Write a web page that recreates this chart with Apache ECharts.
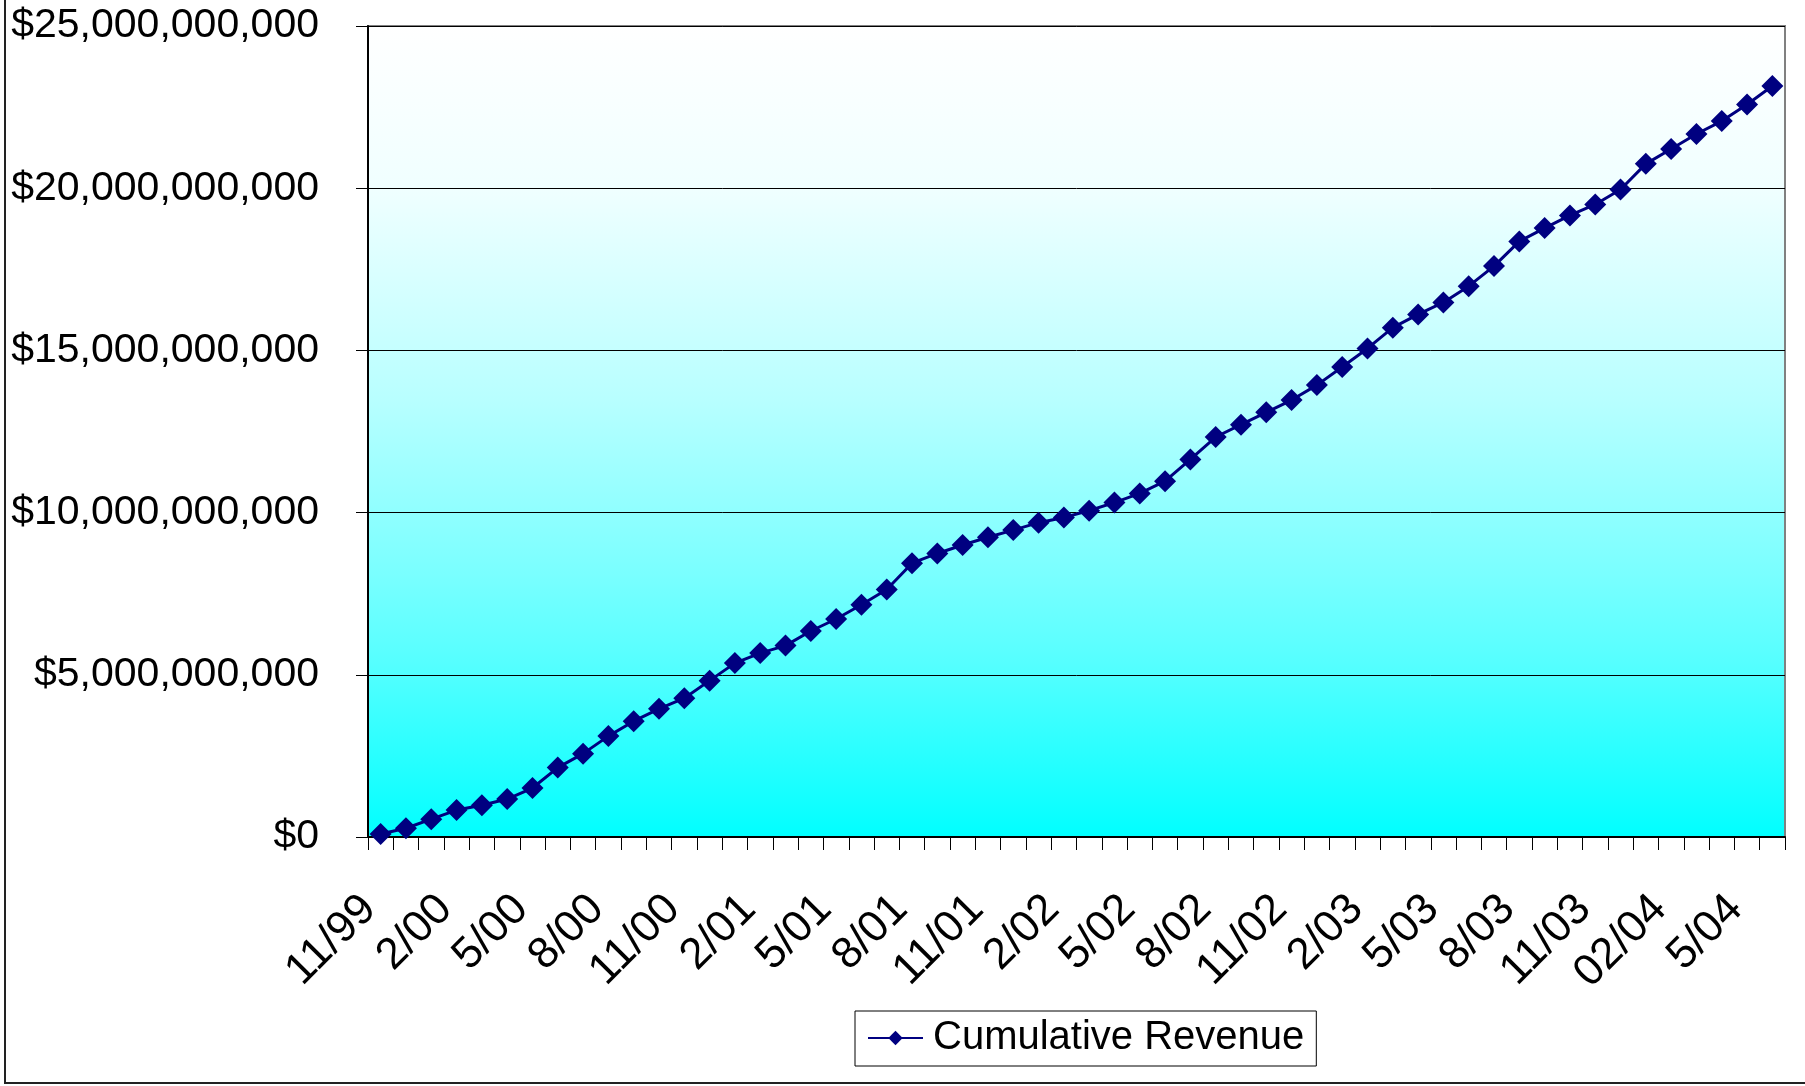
<!DOCTYPE html>
<html>
<head>
<meta charset="utf-8">
<script src="https://cdn.jsdelivr.net/npm/echarts@6/dist/echarts.min.js"></script>
<style>
  html, body { margin: 0; padding: 0; background: #fff; }
  #chart { width: 1805px; height: 1086px; }
</style>
</head>
<body>
<div id="chart"></div>
<script>
  // months, 11/99 .. 6/04
  const months = [
    '11/99', '12/99', '1/00', '2/00', '3/00', '4/00', '5/00', '6/00', '7/00', '8/00',
    '9/00', '10/00', '11/00', '12/00', '1/01', '2/01', '3/01', '4/01', '5/01', '6/01',
    '7/01', '8/01', '9/01', '10/01', '11/01', '12/01', '1/02', '2/02', '3/02', '4/02',
    '5/02', '6/02', '7/02', '8/02', '9/02', '10/02', '11/02', '12/02', '1/03', '2/03',
    '3/03', '4/03', '5/03', '6/03', '7/03', '8/03', '9/03', '10/03', '11/03', '12/03',
    '01/04', '02/04', '03/04', '04/04', '5/04', '6/04'
  ];

  // cumulative revenue, billions of dollars
  const revenueBillions = [
    0.09, 0.27, 0.55, 0.83, 0.98, 1.17, 1.51, 2.14, 2.57, 3.11,
    3.57, 3.95, 4.28, 4.82, 5.36, 5.67, 5.90, 6.35, 6.72, 7.16,
    7.63, 8.44, 8.74, 9.00, 9.24, 9.46, 9.69, 9.85, 10.06, 10.31,
    10.59, 10.97, 11.64, 12.33, 12.71, 13.09, 13.47, 13.93, 14.49, 15.06,
    15.70, 16.11, 16.48, 16.98, 17.60, 18.36, 18.77, 19.16, 19.50, 19.96,
    20.75, 21.21, 21.67, 22.07, 22.58, 23.15
  ];

  const yTicks = [0, 5, 10, 15, 20, 25];

  const font = 'Arial, "Liberation Sans", sans-serif';
  const navy = '#000080';

  const myChart = echarts.init(document.getElementById('chart'));
  const option = {
    animation: false,
    backgroundColor: '#fff',
    graphic: [{
      type: 'polyline',
      shape: { points: [[5, -5], [5, 1083], [1810, 1083]] },
      style: { stroke: '#222', lineWidth: 2, fill: null },
      z: 100
    }],
    grid: {
      left: 368,
      right: 20,
      top: 26,
      bottom: 249,
      show: true,
      borderColor: '#808080',
      borderWidth: 2,
      // excel style two colour fill, white fading to cyan
      backgroundColor: {
        type: 'linear', x: 0, y: 0, x2: 0, y2: 1,
        colorStops: [
          { offset: 0, color: '#ffffff' },
          { offset: 0.2, color: '#f0ffff' },
          { offset: 0.46, color: '#b8ffff' },
          { offset: 0.68, color: '#78ffff' },
          { offset: 0.8, color: '#50ffff' },
          { offset: 1, color: '#00ffff' }
        ]
      }
    },
    legend: {
      data: ['Cumulative Revenue'],
      left: 855,
      top: 1011,
      orient: 'horizontal',
      borderColor: '#000',
      borderWidth: 1,
      padding: [7, 12, 8, 12],
      itemWidth: 55,
      itemHeight: 18,
      textStyle: {
        fontFamily: font,
        fontSize: 40,
        color: '#000',
        padding: [0, 0, 0, 5]
      }
    },
    xAxis: {
      type: 'category',
      data: months,
      boundaryGap: true,
      axisLine: { lineStyle: { color: '#000', width: 2 } },
      axisTick: {
        show: true,
        interval: 0,
        length: 13,
        lineStyle: { color: '#000', width: 1 }
      },
      axisLabel: {
        interval: 2,
        rotate: 45,
        margin: 54,
        fontFamily: font,
        fontSize: 44,
        color: '#000',
        padding: [0, 16, 0, 0]
      },
      splitLine: { show: false }
    },
    yAxis: {
      type: 'value',
      min: yTicks[0],
      max: yTicks[yTicks.length - 1],
      interval: 5,
      axisLine: { show: true, lineStyle: { color: '#000', width: 2 } },
      axisTick: { show: true, length: 12, lineStyle: { color: '#000', width: 1 } },
      axisLabel: {
        margin: 49,
        fontFamily: font,
        fontSize: 41,
        color: '#000',
        formatter: function (v) {
          return v === 0 ? '$0' : '$' + v + ',000,000,000';
        }
      },
      splitLine: { show: true, lineStyle: { color: '#000', width: 1 } }
    },
    series: [{
      name: 'Cumulative Revenue',
      type: 'line',
      data: revenueBillions,
      symbol: 'diamond',
      symbolSize: 22,
      showAllSymbol: true,
      itemStyle: { color: navy },
      lineStyle: { color: navy, width: 3 },
      z: 10
    }]
  };
  myChart.setOption(option);
</script>
</body>
</html>
